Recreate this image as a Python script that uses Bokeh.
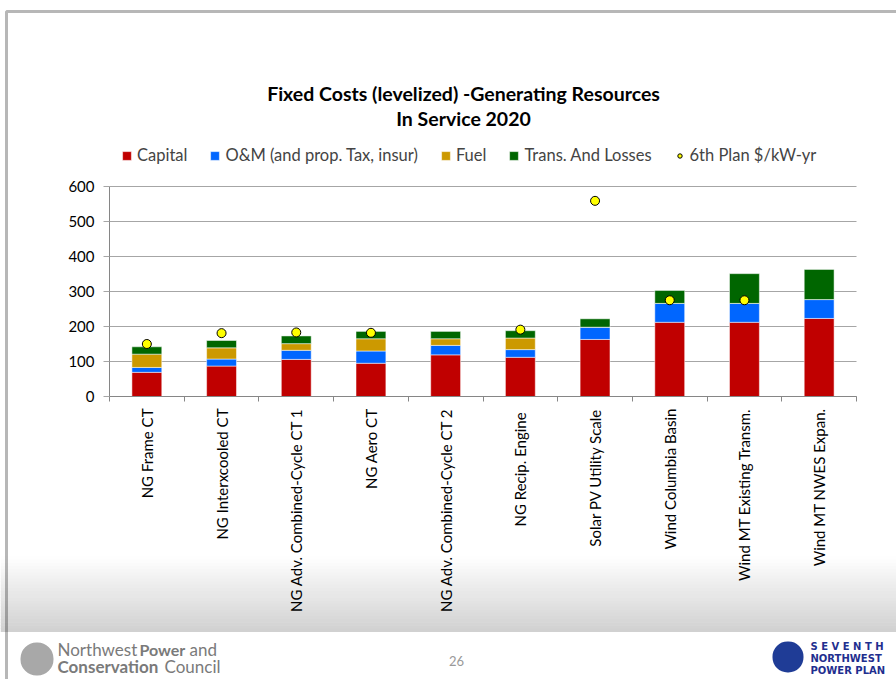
import math
from bokeh.plotting import figure
from bokeh.models import (ColumnDataSource, FixedTicker, Label, BoxAnnotation,
                          Legend, LegendItem, Range1d)
from bokeh.embed import file_html
from bokeh.resources import INLINE

# ---------------- data ----------------
categories = ["NG Frame CT", "NG Interxcooled CT", "NG Adv. Combined-Cycle CT 1",
              "NG Aero CT", "NG Adv. Combined-Cycle CT 2", "NG Recip.  Engine",
              "Solar PV Utility Scale", "Wind Columbia Basin",
              "Wind MT Existing Transm.", "Wind MT NWES Expan."]
capital = [69, 87, 106, 95, 119, 112, 163, 212, 212, 223]
om = [14, 20, 26, 35, 27, 22, 35, 54, 54, 54]
fuel = [38, 32, 19, 35, 19, 33, 0, 0, 0, 0]
trans = [21, 21, 22, 21, 21, 21, 24, 37, 85, 86]
plan6 = [150, 181, 183, 182, float("nan"), 191, 559, 275, 275, float("nan")]
y_ticks = [0, 100, 200, 300, 400, 500, 600]

series_names = ["Capital", "O&M (and prop. Tax, insur)", "Fuel", "Trans. And Losses"]
series_keys = ["capital", "om", "fuel", "trans"]
colors = ["#C00000", "#0066FF", "#CC9900", "#006600"]

FONT = "Lato"
W, H = 896, 679
FL, FR, FT, FB = 109, 856, 186, 396  # plot-area edges in canvas pixels
YMIN, YMAX = 0, 600
NCAT = len(categories)

# map the plot area into the full canvas
px_per_x = (FR - FL) / NCAT
px_per_y = (FB - FT) / (YMAX - YMIN)
x_range = Range1d(-FL / px_per_x, NCAT + (W - FR) / px_per_x)
y_range = Range1d(YMIN - (H - FB) / px_per_y, YMAX + FT / px_per_y)

xpos = [i + 0.5 for i in range(NCAT)]
src = ColumnDataSource(dict(x=xpos, capital=capital, om=om, fuel=fuel,
                            trans=trans, plan6=plan6))

p = figure(width=W, height=H, output_backend="svg", toolbar_location=None,
           x_range=x_range, y_range=y_range,
           min_border=0, min_border_left=0, min_border_right=0,
           min_border_top=0, min_border_bottom=0)
p.outline_line_color = None
p.background_fill_color = "white"
p.border_fill_color = "white"

def sx(x):
    return x

def sy(y):
    return H - y

def sbox(l, t, r, b, **kw):
    return BoxAnnotation(left=sx(l), right=sx(r), top=sy(t), bottom=sy(b),
                         left_units="screen", right_units="screen",
                         top_units="screen", bottom_units="screen", **kw)

def slabel(x, y, text, **kw):
    return Label(x=sx(x), y=sy(y), x_units="screen", y_units="screen", text=text,
                 text_baseline="middle", **kw)

# --- background decorations (slide) ---
n_strips = 24
g0, g1 = 556, 631
for k in range(n_strips):
    t = (k + 0.5) / n_strips
    v = int(round(255 - t * (255 - 208)))
    col = "#%02x%02x%02x" % (v, v, v)
    p.add_layout(sbox(0, g0 + (g1 - g0) * k / n_strips, W + 10,
                      g0 + (g1 - g0) * (k + 1) / n_strips + 0.6,
                      fill_color=col, fill_alpha=1, line_color=None,
                      level="underlay"))

# slide border
p.add_layout(sbox(6, 11, W + 20, H + 20, fill_alpha=0, line_color="#111111",
                  line_width=3, level="underlay"))

# --- bars ---
renderers = p.vbar_stack(series_keys, x="x", width=0.4, source=src, color=colors,
                         line_color="white", line_alpha=0.5, line_width=1)
dots = p.scatter(x="x", y="plan6", source=src, size=9, fill_color="#FFFF00",
                 line_color="black", line_width=1)

# --- grid & axes ---
p.xgrid.grid_line_color = None
p.ygrid.grid_line_color = "#A6A6A6"
p.ygrid.grid_line_width = 1.2
p.ygrid.ticker = FixedTicker(ticks=y_ticks)
p.ygrid.bounds = (YMIN, YMAX)
p.ygrid.cross_bounds = (0, NCAT)

yax = p.yaxis[0]
yax.fixed_location = 0
yax.bounds = (YMIN, YMAX)
yax.ticker = FixedTicker(ticks=y_ticks)
yax.axis_line_color = "#868686"
yax.major_tick_line_color = "#A6A6A6"
yax.major_tick_out = 6
yax.major_tick_in = 0
yax.minor_tick_line_color = None
yax.major_label_standoff = 9
yax.major_label_text_font = FONT
yax.major_label_text_font_size = "15px"
yax.major_label_text_color = "black"

xax = p.xaxis[0]
xax.fixed_location = YMIN
xax.bounds = (0, NCAT)
xax.ticker = FixedTicker(ticks=xpos, minor_ticks=list(range(NCAT + 1)))
xax.major_label_overrides = {x: c for x, c in zip(xpos, categories)}
xax.major_label_orientation = math.pi / 2
xax.axis_line_color = "#868686"
xax.major_tick_line_color = None
xax.major_tick_out = 5
xax.major_tick_in = 0
xax.minor_tick_line_color = "#868686"
xax.minor_tick_out = 5
xax.minor_tick_in = 0
xax.major_label_standoff = 7
xax.major_label_text_font = FONT
xax.major_label_text_font_size = "15px"
xax.major_label_text_color = "black"

# --- legend ---
items = [LegendItem(label=n, renderers=[r]) for n, r in zip(series_names, renderers)]
items.append(LegendItem(label="6th Plan $/kW-yr", renderers=[dots]))
legend = Legend(items=items, orientation="horizontal", location=(sx(121), sy(165)),
                padding=0, margin=0, spacing=22, border_line_color=None,
                background_fill_alpha=0, glyph_width=11, glyph_height=11,
                label_standoff=5, label_height=20,
                label_text_font=FONT, label_text_font_size="16.5px")
p.add_layout(legend, "center")

# --- title ---
for txt, yy in [("Fixed Costs (levelized) -Generating Resources", 93),
                ("In Service 2020", 118)]:
    p.add_layout(slabel(463, yy, txt, text_align="center", text_font=FONT,
                        text_font_style="bold", text_font_size="19.5px",
                        text_color="black"))

# --- footer ---
p.add_layout(sbox(20, 642, 53, 675, fill_color="#A8A8A8", fill_alpha=1,
                  line_color=None, border_radius=16))
for x, y, txt, st, fs in [(57, 649, "Northwest", "normal", "17px"),
                          (139, 649, "Power", "bold", "16px"),
                          (189, 649, "and", "normal", "17px"),
                          (57, 666, "Conservation", "bold", "17px"),
                          (164, 666, "Council", "normal", "17px")]:
    p.add_layout(slabel(x, y, txt, text_font=FONT, text_font_style=st,
                        text_font_size=fs, text_color="#7A7A7A"))
p.add_layout(slabel(456, 660, "26", text_align="center", text_font=FONT,
                    text_font_size="13px", text_color="#999999"))
p.add_layout(sbox(772, 641, 803, 672, fill_color="#1F3C96", fill_alpha=1,
                  line_color=None, border_radius=15))
for txt, yy in [("S E V E N T H", 646), ("NORTHWEST", 658), ("POWER PLAN", 670)]:
    p.add_layout(slabel(810, yy, txt, text_font="DejaVu Sans",
                        text_font_style="bold", text_font_size="10px",
                        text_color="#1F2F8F"))

open("out.html", "w").write(file_html(p, INLINE))
